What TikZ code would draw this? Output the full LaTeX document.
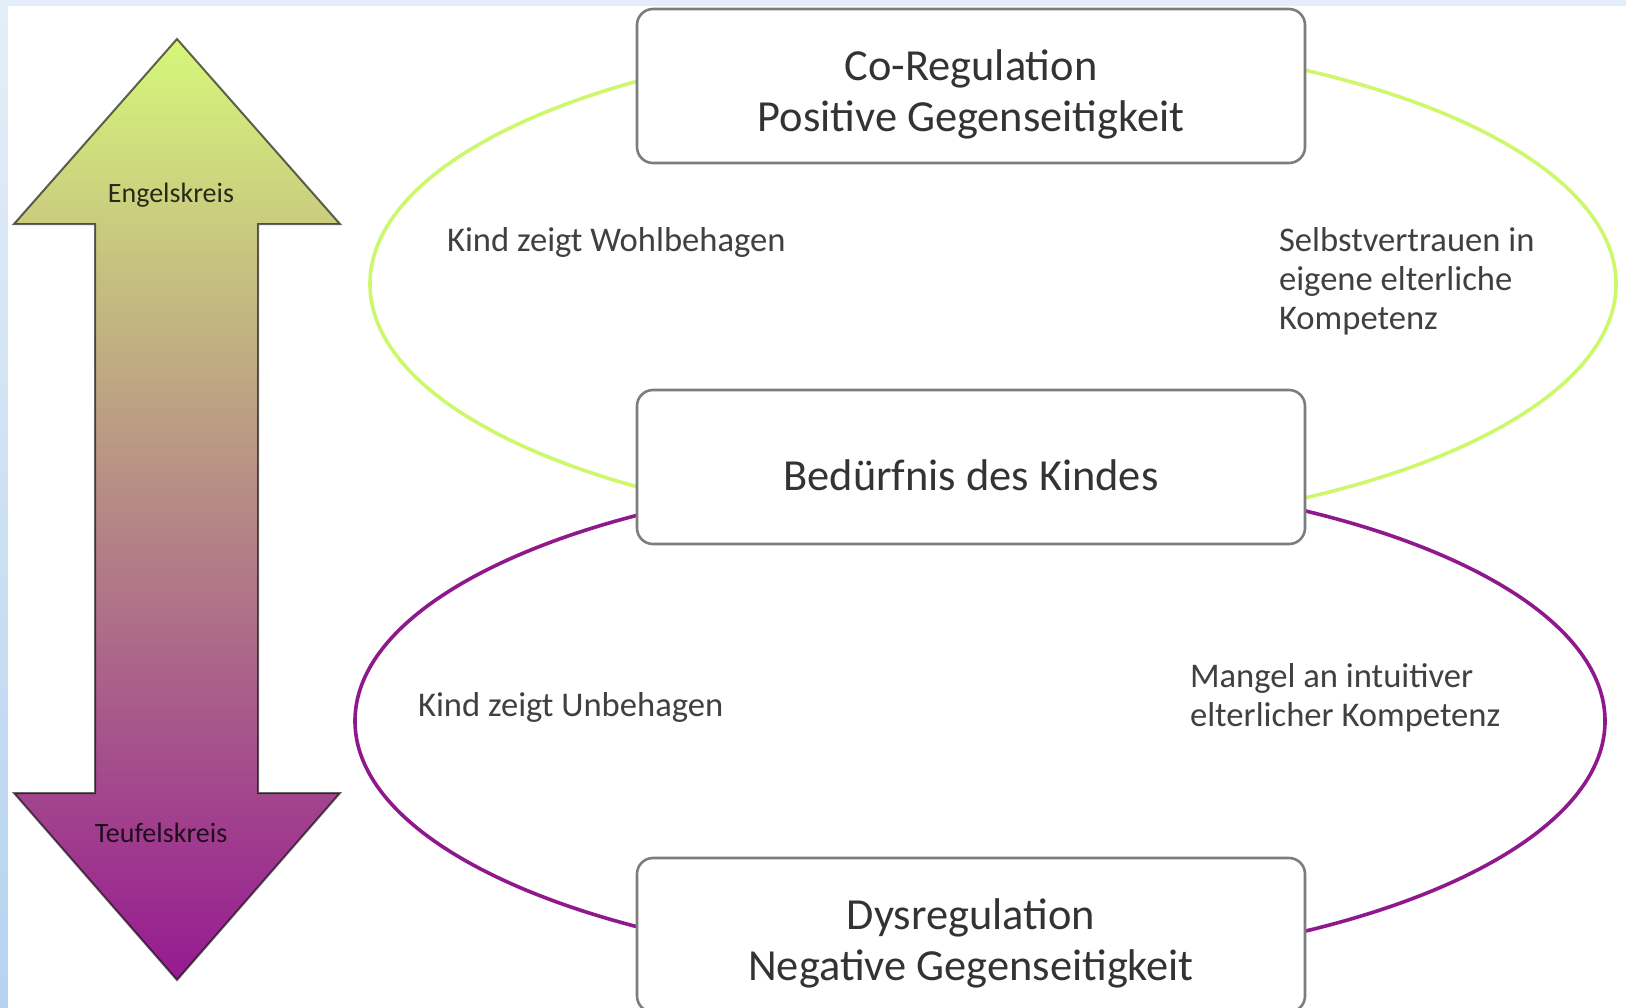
\documentclass[tikz,border=0pt]{standalone}
\usepackage{fontspec}
\setmainfont{Carlito}
\usepackage{tikz}
\usetikzlibrary{positioning}

\definecolor{ringgreen}{RGB}{206,248,108}
\definecolor{ringpurple}{RGB}{142,24,140}
\definecolor{arrowtop}{RGB}{214,247,122}
\definecolor{arrowbot}{RGB}{150,26,145}
\definecolor{slideblue}{RGB}{228,238,248}
\definecolor{slidedeep}{RGB}{182,211,238}
\definecolor{boxline}{RGB}{125,125,125}

\tikzset{
    stage/.style={rectangle, rounded corners=8pt, minimum width=334pt, minimum height=77pt,
        draw=boxline, line width=1.3pt, fill=white,
        label={[stagetext]center:#1}},
    stagetext/.style={align=center, text=black!80, yshift=-4pt,
        font=\fontsize{22.2}{25.5}\selectfont},
    note/.style={anchor=west, align=left, text=black!75,
        font=\fontsize{17.3}{19.6}\selectfont},
    ring/.style={line width=1.8pt},
    pole/.style={text=black, text opacity=0.8, font=\fontsize{14}{16}\selectfont}
}

\begin{document}
\begin{tikzpicture}[x=0.5pt, y=-0.5pt]
    % slide background
    \useasboundingbox (0,0) rectangle (1626,1007);
    \fill[slideblue] (0,0) rectangle (1626,1007);
    \shade[top color=slideblue, bottom color=slidedeep] (0,0) rectangle (8,1007);
    \fill[white] (8,6) rectangle (1626,1007);

    % the two circles
    \coordinate (angel) at (993,284);
    \coordinate (devil) at (980,721);
    \draw[ring, ringgreen] (angel) ellipse [x radius=623, y radius=247];
    \draw[ring, ringpurple] (devil) ellipse [x radius=625, y radius=246];

    % boxes
    \node (coreg) [stage={Co-Regulation\\Positive Gegenseitigkeit}] at (971,86) {};
    \node (need) [stage={Bedürfnis des Kindes}] at (971,467) {};
    \node (dysreg) [stage={Dysregulation\\Negative Gegenseitigkeit}] at (971,935) {};

    % labels on the circles
    \node (calm) [note] at (440,242) {Kind zeigt Wohlbehagen};
    \node (trust) [note] at (1272,281) {Selbstvertrauen in\\eigene elterliche\\Kompetenz};
    \node (upset) [note] at (411,707) {Kind zeigt Unbehagen};
    \node (lack) [note] at (1183,698) {Mangel an intuitiver\\elterlicher Kompetenz};

    % double arrow
    \shade[top color=arrowtop, bottom color=arrowbot, draw=black, draw opacity=0.6, line width=1pt]
        (177,39) -- (340,224) -- (258,224) -- (258,793) -- (340,793) -- (177,980)
        -- (14,793) -- (95,793) -- (95,224) -- (14,224) -- cycle;
    \node (up) [pole] at (171,195) {Engelskreis};
    \node (down) [pole] at (161,833) {Teufelskreis};
\end{tikzpicture}
\end{document}
